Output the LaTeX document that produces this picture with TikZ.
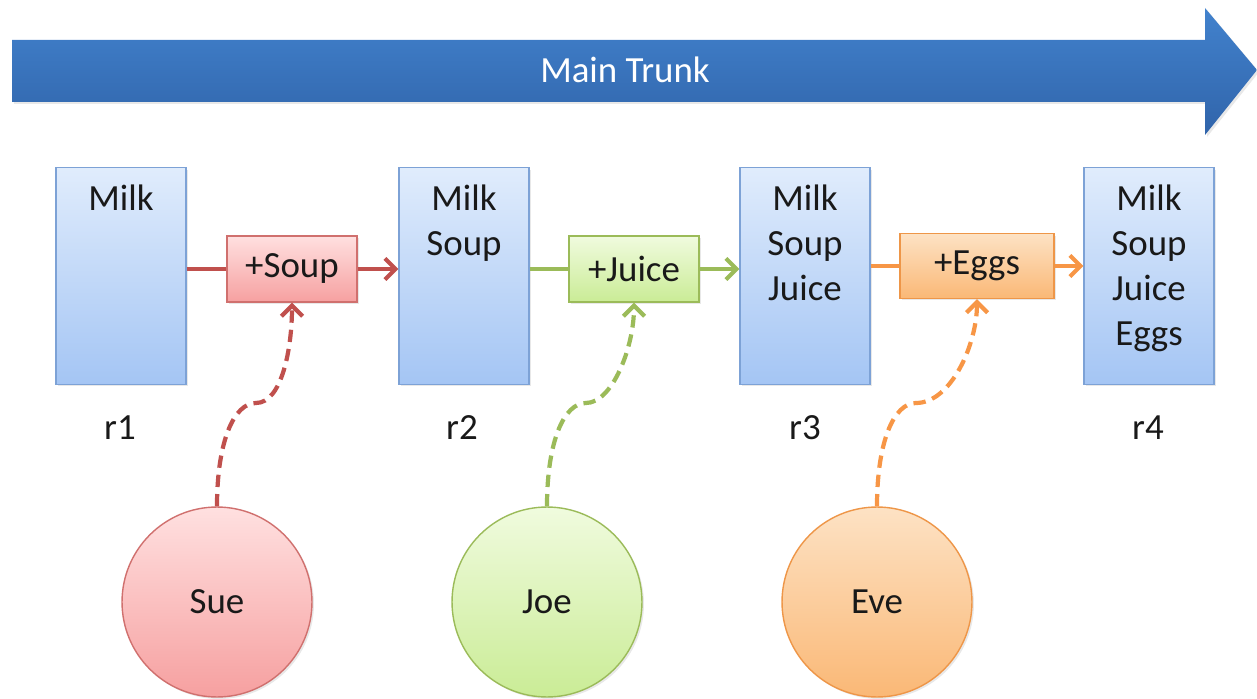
\documentclass[tikz,border=0pt]{standalone}
\usepackage{fontspec}
\setmainfont{Carlito}
\usetikzlibrary{arrows.meta,shadows}
\definecolor{trunktop}{RGB}{66,130,205}
\definecolor{trunkbottom}{RGB}{48,100,170}
\definecolor{revtop}{RGB}{224,236,252}
\definecolor{revbottom}{RGB}{164,197,244}
\definecolor{revborder}{RGB}{125,162,214}
\definecolor{souptop}{RGB}{255,224,224}
\definecolor{soupbottom}{RGB}{246,160,160}
\definecolor{soupborder}{RGB}{208,112,110}
\definecolor{soupline}{RGB}{192,80,77}
\definecolor{juicetop}{RGB}{240,251,222}
\definecolor{juicebottom}{RGB}{202,236,150}
\definecolor{juiceborder}{RGB}{155,187,89}
\definecolor{juiceline}{RGB}{155,187,89}
\definecolor{eggstop}{RGB}{253,226,196}
\definecolor{eggsbottom}{RGB}{250,184,118}
\definecolor{eggsborder}{RGB}{238,150,72}
\definecolor{eggsline}{RGB}{247,150,70}
\definecolor{ink}{RGB}{25,25,25}
\tikzstyle{every node} = [font=\fontsize{21}{25.6}\selectfont, text=ink]
\tikzstyle{softshadow} = [drop shadow={opacity=0.18, shadow xshift=0.04cm, shadow yshift=-0.04cm}]
\tikzstyle{revbox} = [rectangle, draw=revborder, line width=0.8pt, top color=revtop, bottom color=revbottom,
    minimum width=2.6cm, minimum height=4.34cm, softshadow]
\tikzstyle{changebox} = [rectangle, line width=0.8pt, minimum height=1.32cm, minimum width=2.6cm, softshadow]
\tikzstyle{person} = [circle, line width=0.8pt, minimum size=3.8cm, softshadow]
\tikzstyle{flow} = [line width=2.3pt]
\tikzstyle{dashflow} = [line width=2.4pt, dash pattern=on 7pt off 4pt]

\begin{document}
\begin{tikzpicture}[x=0.02cm, y=-0.02cm]
            \useasboundingbox (0,0) rectangle (1257,699);

            % main trunk
            \shade[top color=trunktop, bottom color=trunkbottom, softshadow]
                (12,40) -- (1205,40) -- (1205,8) -- (1257,70) -- (1205,135) -- (1205,102) -- (12,102) -- cycle;
            \node[text=white] (trunk) at (625,70) {Main Trunk};

            % revisions
            \node[revbox, label={[anchor=north, align=center, yshift=-0.24cm]north:Milk}] (r1) at (121,276) {};
            \node[revbox, label={[anchor=north, align=center, yshift=-0.24cm]north:Milk\\Soup}] (r2) at (464,276) {};
            \node[revbox, label={[anchor=north, align=center, yshift=-0.24cm]north:Milk\\Soup\\Juice}] (r3) at (805,276) {};
            \node[revbox, label={[anchor=north, align=center, yshift=-0.24cm]north:Milk\\Soup\\Juice\\Eggs}] (r4) at (1149,276) {};
            \node (r1name) at (120,428) {r1};
            \node (r2name) at (462,428) {r2};
            \node (r3name) at (805,428) {r3};
            \node (r4name) at (1148,428) {r4};

            % changes
            \node[changebox, draw=soupborder, top color=souptop, bottom color=soupbottom] (soup) at (292,269) {+Soup};
            \node[changebox, draw=juiceborder, top color=juicetop, bottom color=juicebottom] (juice) at (634,269) {+Juice};
            \node[changebox, draw=eggsborder, top color=eggstop, bottom color=eggsbottom,
                minimum width=3.08cm, minimum height=1.3cm] (eggs) at (977,266) {+Eggs};

            \draw[flow, soupline] (r1.east |- soup) -- (soup);
            \draw[flow, soupline, -{Straight Barb[length=6pt, width=12pt]}] (soup) -- (r2.west |- soup);
            \draw[flow, juiceline] (r2.east |- juice) -- (juice);
            \draw[flow, juiceline, -{Straight Barb[length=6pt, width=12pt]}] (juice) -- (r3.west |- juice);
            \draw[flow, eggsline] (r3.east |- eggs) -- (eggs);
            \draw[flow, eggsline, -{Straight Barb[length=6pt, width=12pt]}] (eggs) -- (r4.west |- eggs);

            % people
            \node[person, draw=soupborder, top color=souptop, bottom color=soupbottom] (sue) at (217,602) {Sue};
            \node[person, draw=juiceborder, top color=juicetop, bottom color=juicebottom] (joe) at (547,602) {Joe};
            \node[person, draw=eggsborder, top color=eggstop, bottom color=eggsbottom] (eve) at (877,602) {Eve};

            \coordinate (suebend) at (256,403);
            \coordinate (joebend) at (586,403);
            \coordinate (evebend) at (916,403);
            \draw[dashflow, soupline, -{Straight Barb[length=6pt, width=12pt]}] (sue.north)
                .. controls +(0,-65) and +(-22,0) .. (suebend)
                .. controls +(26,0) and +(0,45) .. (soup.south);
            \draw[dashflow, juiceline, -{Straight Barb[length=6pt, width=12pt]}] (joe.north)
                .. controls +(0,-65) and +(-22,0) .. (joebend)
                .. controls +(26,0) and +(0,45) .. (juice.south);
            \draw[dashflow, eggsline, -{Straight Barb[length=6pt, width=12pt]}] (eve.north)
                .. controls +(0,-65) and +(-22,0) .. (evebend)
                .. controls +(35,0) and +(0,45) .. (eggs.south);
        \end{tikzpicture}
\end{document}
